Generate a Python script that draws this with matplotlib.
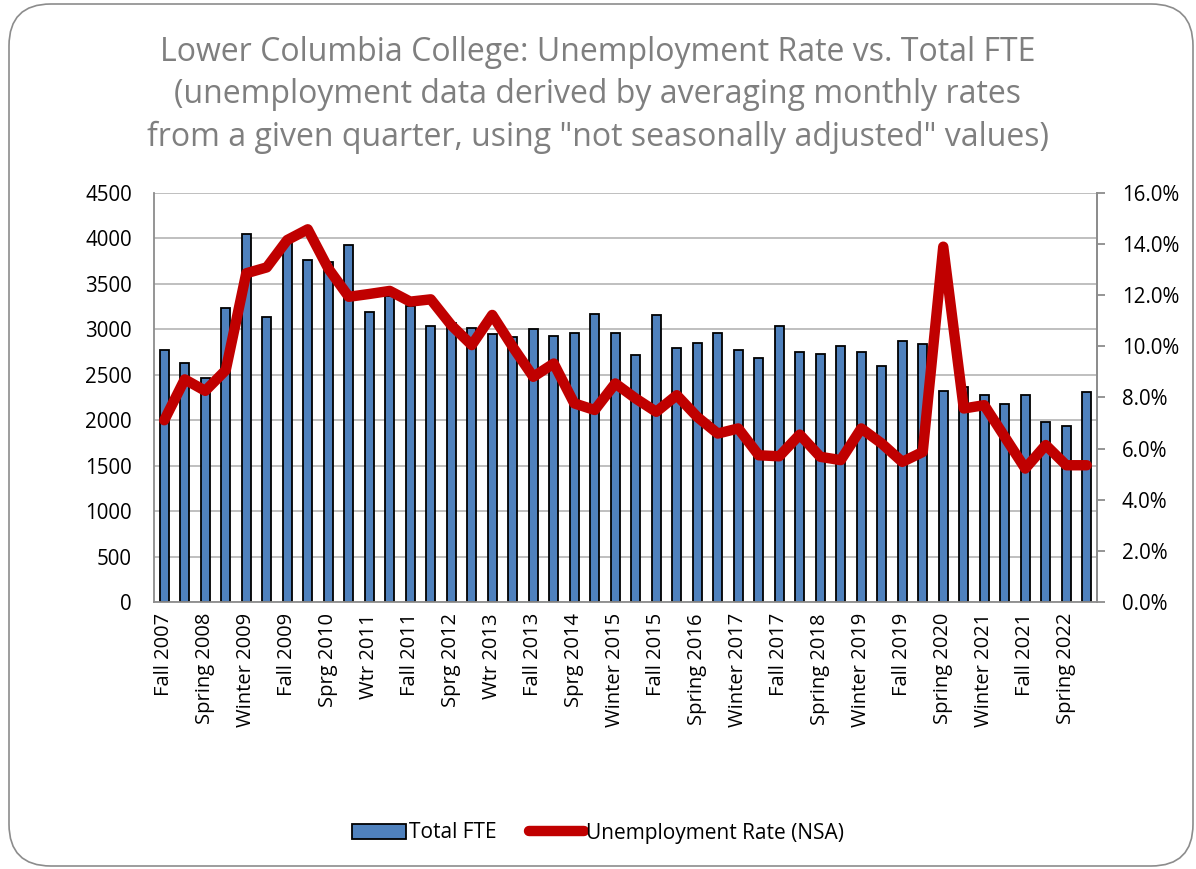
import matplotlib
matplotlib.use("Agg")
import matplotlib.pyplot as plt
from matplotlib.patches import FancyBboxPatch, Patch
from matplotlib.lines import Line2D
from matplotlib.ticker import FuncFormatter, MultipleLocator

quarters = [
    "Fall 2007", "Winter 2008", "Spring 2008", "Fall 2008", "Winter 2009", "Spring 2009",
    "Fall 2009", "Winter 2010", "Sprg 2010", "Fall 2010", "Wtr 2011", "Spring 2011",
    "Fall 2011", "Winter 2012", "Sprg 2012", "Fall 2012", "Wtr 2013", "Spring 2013",
    "Fall 2013", "Winter 2014", "Sprg 2014", "Fall 2014", "Winter 2015", "Spring 2015",
    "Fall 2015", "Winter 2016", "Spring 2016", "Fall 2016", "Winter 2017", "Spring 2017",
    "Fall 2017", "Winter 2018", "Spring 2018", "Fall 2018", "Winter 2019", "Spring 2019",
    "Fall 2019", "Winter 2020", "Spring 2020", "Fall 2020", "Winter 2021", "Spring 2021",
    "Fall 2021", "Winter 2022", "Spring 2022", "Fall 2022",
]

total_fte = [
    2773, 2634, 2468, 3240, 4052, 3141, 3950, 3758, 3740, 3931, 3196, 3370,
    3260, 3038, 3070, 3013, 2950, 2917, 3002, 2931, 2961, 3174, 2958, 2715,
    3159, 2796, 2851, 2958, 2777, 2682, 3040, 2752, 2733, 2818, 2752, 2601,
    2870, 2843, 2319, 2370, 2275, 2182, 2278, 1980, 1936, 2307,
]

unemployment_rate = [
    7.11, 8.71, 8.26, 9.07, 12.86, 13.09, 14.16, 14.58, 13.05, 11.94, 12.05, 12.17,
    11.75, 11.84, 10.83, 10.05, 11.23, 9.98, 8.81, 9.33, 7.77, 7.51, 8.55, 7.96,
    7.44, 8.09, 7.24, 6.59, 6.79, 5.74, 5.70, 6.55, 5.68, 5.55, 6.79, 6.20,
    5.48, 5.87, 13.90, 7.57, 7.70, 6.46, 5.22, 6.14, 5.35, 5.35,
]

title = ("Lower Columbia College: Unemployment Rate vs. Total FTE\n"
         "(unemployment data derived by averaging monthly rates\n"
         "from a given quarter, using \"not seasonally adjusted\" values)")

FONT = ["Open Sans", "DejaVu Sans"]
plt.rcParams["font.family"] = FONT

W, H = 1196, 869
fig = plt.figure(figsize=(W / 100, H / 100), dpi=100)

# rounded chart border
border = FancyBboxPatch((9 / W, 3 / H), (1184) / W, (862) / H,
                        boxstyle="round,pad=0,rounding_size=0.035",
                        transform=fig.transFigure, fill=False,
                        edgecolor="#8c8c8c", linewidth=1.2, mutation_aspect=W / H)
fig.patches.append(border)

ax = fig.add_axes([154 / W, 1 - 602 / H, (1097 - 154) / W, (602 - 193) / H])
x = list(range(len(quarters)))

ax.bar(x, total_fte, width=0.42, color="#4f81bd", edgecolor="black",
       linewidth=1.3, zorder=2)
ax.set_ylim(0, 4500)
ax.set_xlim(-0.5, len(quarters) - 0.5)
ax.yaxis.set_major_locator(MultipleLocator(500))
ax.grid(axis="y", color="#bfbfbf", linewidth=1.4, zorder=0)
ax.set_axisbelow(True)

ax.set_xticks(x[::2])
ax.set_xticklabels(quarters[::2], rotation=90, fontsize=14.5, color="#000000")
ax.tick_params(axis="x", length=0, pad=8)
ax.tick_params(axis="y", length=0, labelsize=14.8, pad=16)

for s in ["top"]:
    ax.spines[s].set_visible(False)
for s in ["left", "bottom", "right"]:
    ax.spines[s].set_color("#8c8c8c")
    ax.spines[s].set_linewidth(1.3)

ax2 = ax.twinx()
ax2.plot(x, unemployment_rate, color="#c00000", linewidth=7.5,
         solid_joinstyle="round", solid_capstyle="round", zorder=3)
ax2.set_ylim(0, 16)
ax2.yaxis.set_major_locator(MultipleLocator(2))
ax2.yaxis.set_major_formatter(FuncFormatter(lambda v, p: f"{v:.1f}%"))
ax2.tick_params(axis="y", length=6, width=1.3, color="#8c8c8c", labelsize=14.8, pad=12)
for s in ["top", "left", "bottom"]:
    ax2.spines[s].set_visible(False)
ax2.spines["right"].set_color("#8c8c8c")
ax2.spines["right"].set_linewidth(1.3)

fig.text(0.5, 1 - 95 / H, title, ha="center", va="center", fontsize=23,
         color="#7f7f7f", linespacing=1.38)

handles = [Patch(facecolor="#4f81bd", edgecolor="black", linewidth=1.3, label="Total FTE"),
           Line2D([0], [0], color="#c00000", linewidth=7.5, solid_capstyle="round",
                  label="Unemployment Rate (NSA)")]
fig.legend(handles=handles, loc="center", bbox_to_anchor=(0.5, 1 - 833 / H), ncol=2,
           frameon=False, fontsize=15, handlelength=2.6, handletextpad=0.1,
           columnspacing=1.6)

fig.savefig("out.png", dpi=100)
